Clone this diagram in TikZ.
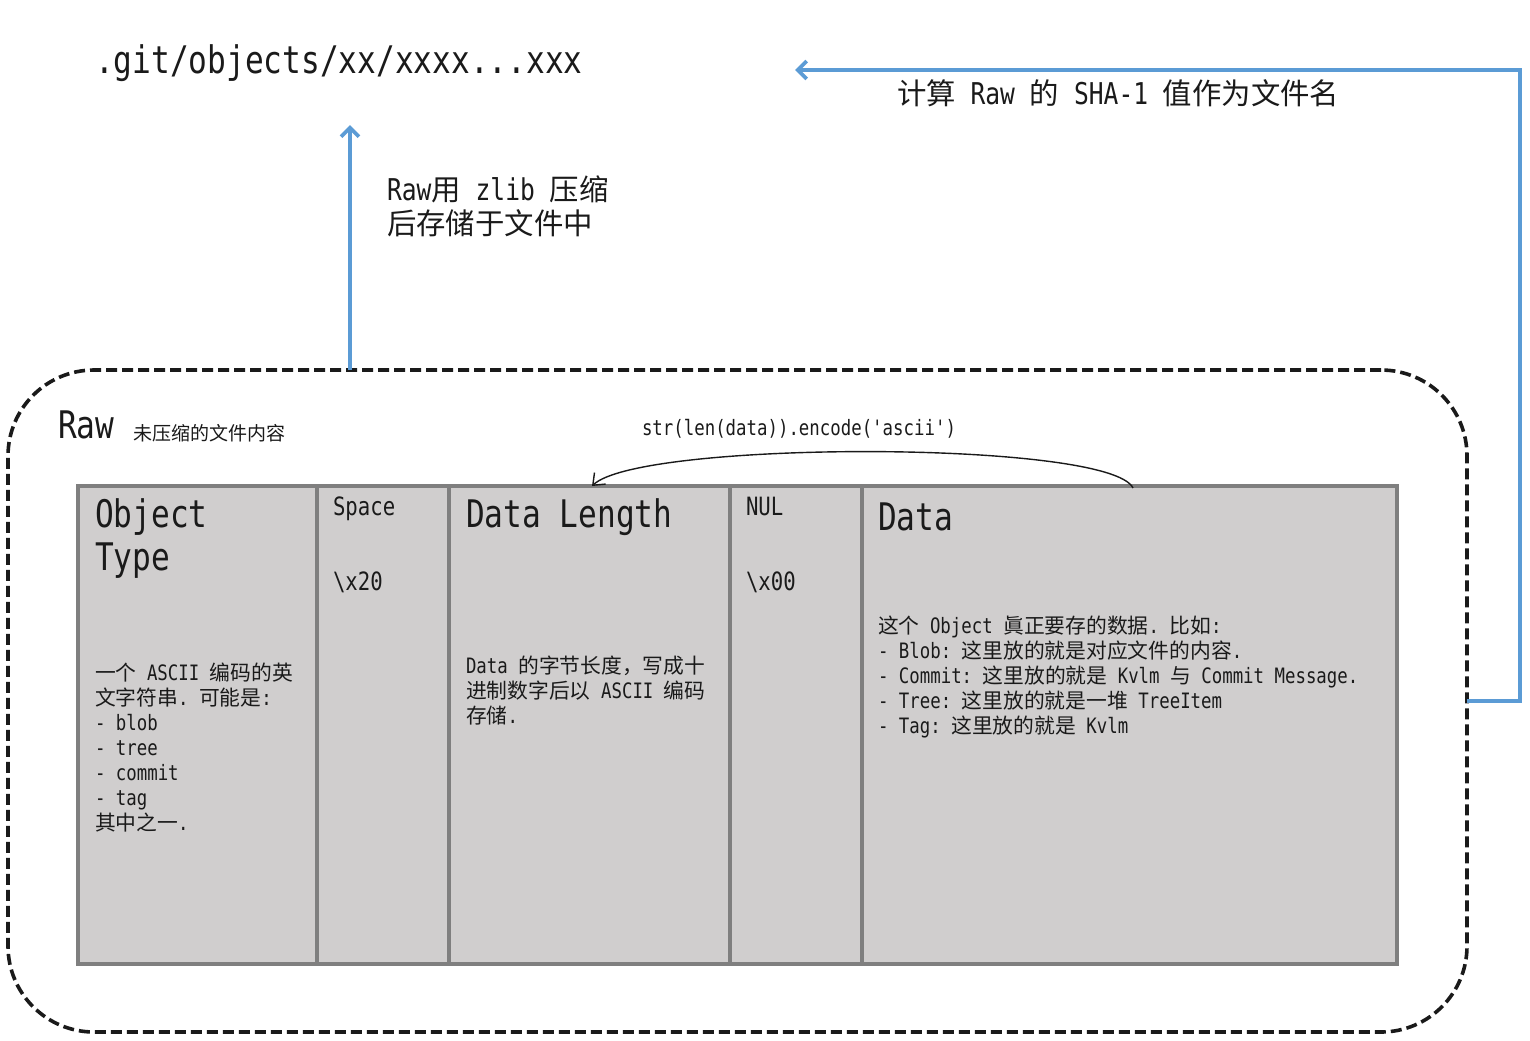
\documentclass[tikz,border=0pt]{standalone}
\usepackage{fontspec}
\setmonofont[FakeStretch=0.82]{DejaVu Sans Mono}
\newfontfamily\cjk[Scale=0.98]{Noto Sans CJK SC}
\usepackage{tikz}
\usetikzlibrary{arrows.meta}
\usetikzlibrary{fit}
\definecolor{flowblue}{HTML}{5B9BD5}
\definecolor{cellgray}{HTML}{D0CECE}
\definecolor{cellrule}{HTML}{7F7F7F}
\definecolor{ink}{HTML}{1A1A1A}
\newcommand\zh[1]{{\cjk #1}}

\begin{document}
\begin{tikzpicture}[x=0.5pt,y=-0.5pt,
    every node/.style={inner sep=0pt, outer sep=0pt, text=ink},
    big/.style={font=\ttfamily\fontsize{19}{21.5}\selectfont, align=left},
    mid/.style={font=\ttfamily\fontsize{15}{17}\selectfont, align=left},
    tag/.style={font=\ttfamily\fontsize{12.6}{15}\selectfont},
    note/.style={font=\ttfamily\fontsize{10.6}{12.5}\selectfont, align=left},
    rawbox/.style={draw=ink, line width=1.8pt, dash pattern=on 5.5pt off 2.5pt, rounded corners=43pt},
    cell/.style={draw=cellrule, line width=1.6pt, fill=cellgray},
    flow/.style={draw=flowblue, line width=1.9pt, -{Straight Barb[length=4.5pt,width=9pt]}},
    lenarrow/.style={draw=ink, line width=0.7pt, -{Straight Barb[length=5pt,width=8pt]}}]
\useasboundingbox (0,0) rectangle (1530,1040);

% uncompressed object
\node[rawbox, fit={(8,370) (1467,1032)}] (raw) {};
\node[big, anchor=base west] (rawlabel) at (58,438) {Raw};
\node[anchor=base west, font=\cjk\fontsize{9.7}{11}\selectfont] (rawnote) at (133,440) {未压缩的文件内容};

% the five fields
\node[cell, fit={(78,486) (317,964)}] (otype) {};
\node[cell, fit={(317,486) (449,964)}] (space) {};
\node[cell, fit={(449,486) (730,964)}] (dlen) {};
\node[cell, fit={(730,486) (862,964)}] (nul) {};
\node[cell, fit={(862,486) (1397,964)}] (data) {};

% base of a multi-line node is its last line
\node[big, anchor=base west] (otypeT) at (95,570) {Object\\Type};
\node[note, anchor=base west] (otypeN) at (95,830) {\zh{一个} ASCII \zh{编码的英}\\\zh{文字符串}. \zh{可能是}:\\- blob\\- tree\\- commit\\- tag\\\zh{其中之一}.};
\node[tag, anchor=base west] (spaceT) at (333,515) {Space};
\node[tag, anchor=base west] (spaceN) at (333,590) {\textbackslash x20};
\node[big, anchor=base west] (dlenT) at (466,527) {Data Length};
\node[note, anchor=base west] (dlenN) at (466,723) {Data \zh{的字节长度，写成十}\\\zh{进制数字后以} ASCII \zh{编码}\\\zh{存储}.};
\node[tag, anchor=base west] (nulT) at (746,515) {NUL};
\node[tag, anchor=base west] (nulN) at (746,590) {\textbackslash x00};
\node[big, anchor=base west] (dataT) at (878,530) {Data};
\node[note, anchor=base west] (dataN) at (878,733) {\zh{这个} Object \zh{眞正要存的数据}. \zh{比如}:\\- Blob: \zh{这里放的就是对应文件的内容}.\\- Commit: \zh{这里放的就是} Kvlm \zh{与} Commit Message.\\- Tree: \zh{这里放的就是一堆} TreeItem\\- Tag: \zh{这里放的就是} Kvlm};

% length is computed from the data
\node[note, anchor=base west] (encnote) at (642,435) {str(len(data)).encode('ascii')};
\coordinate (lenTop) at (592,486);
\coordinate (dataTop) at (1133,488);
\draw[lenarrow] (dataTop) .. controls (1110,440) and (640,440) .. (lenTop);

% stored file
\node[big, anchor=base west] (objpath) at (95,73) {.git/objects/xx/xxxx...xxx};
\coordinate (pathIn) at (350,125);
\coordinate (hashIn) at (795,70);
\draw[flow] (raw.north -| pathIn) -- (pathIn);
\node[mid, anchor=base west] (zipnote) at (387,234) {Raw\zh{用} zlib \zh{压缩}\\\zh{后存储于文件中}};
\draw[flow] (raw.east) -- ++(53,0) |- (hashIn);
\node[mid, anchor=base west] (hashnote) at (897,104) {\zh{计算} Raw \zh{的} SHA-1 \zh{值作为文件名}};
\end{tikzpicture}
\end{document}
